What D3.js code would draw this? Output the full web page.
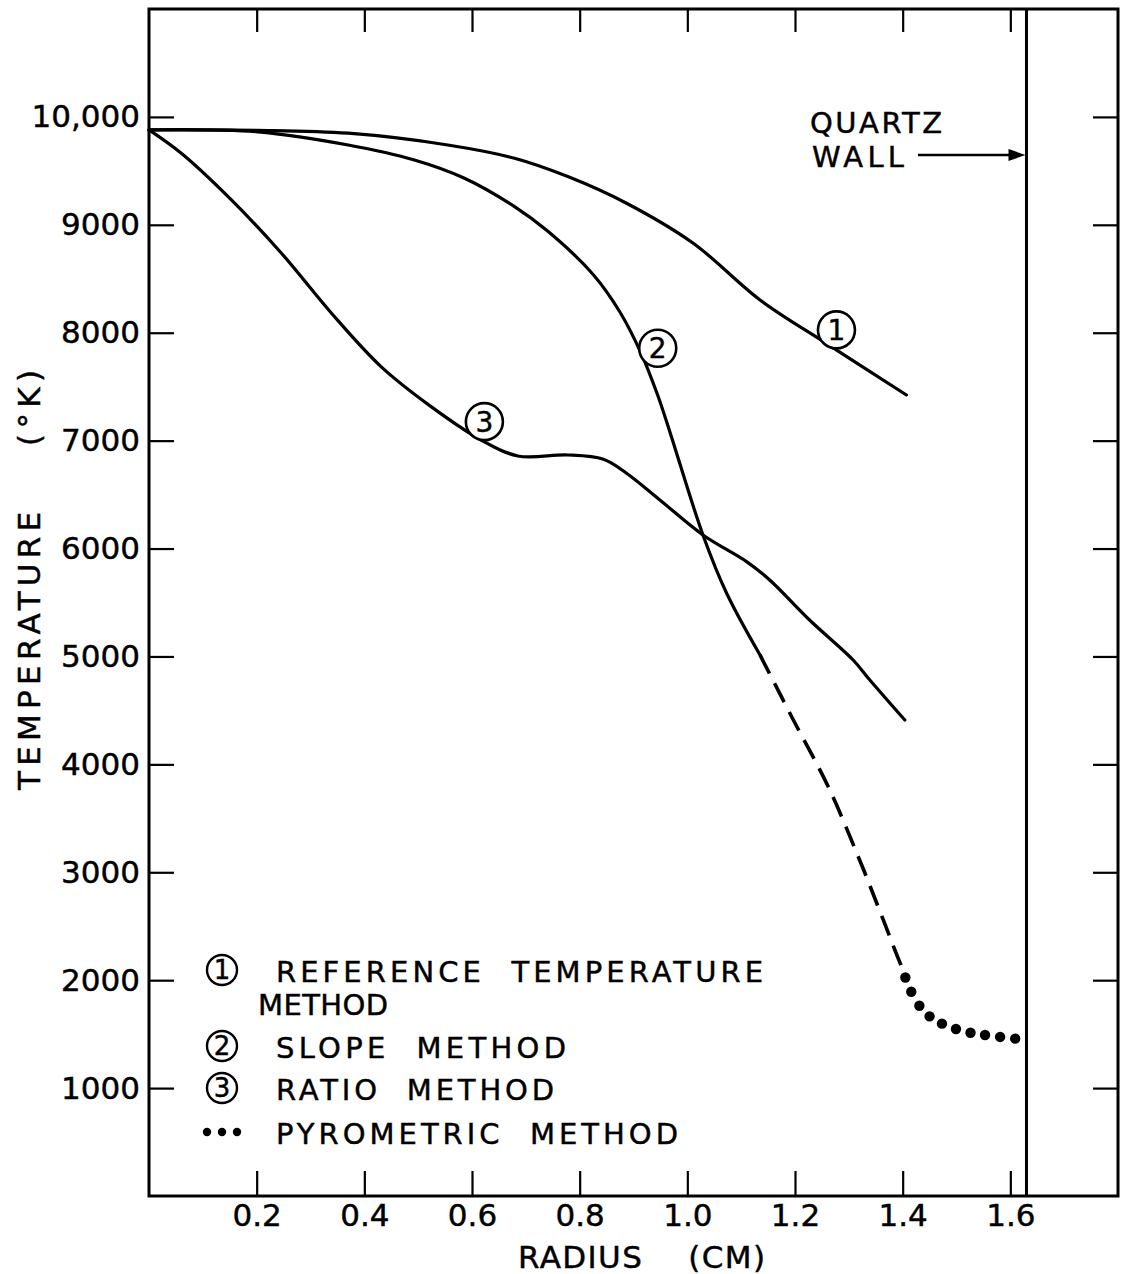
<!DOCTYPE html>
<html>
<head>
<meta charset="utf-8">
<script src="https://cdn.jsdelivr.net/npm/d3@7"></script>
<style>
  body { margin: 0; background: #fff; }
  svg { display: block; }
  text { font-family: "DejaVu Sans", sans-serif; fill: #000; stroke: #000; stroke-width: 0.45px; }
</style>
</head>
<body>
<svg id="chart" width="1121" height="1274"></svg>
<script>
// Axis ticks
const radiusTicks = [0.2, 0.4, 0.6, 0.8, 1.0, 1.2, 1.4, 1.6];
const radiusTickLabels = ["0.2", "0.4", "0.6", "0.8", "1.0", "1.2", "1.4", "1.6"];
const tempTicks = [1000, 2000, 3000, 4000, 5000, 6000, 7000, 8000, 9000, 10000];
const tempTickLabels = ["1000", "2000", "3000", "4000", "5000", "6000", "7000", "8000", "9000", "10,000"];

// (1) Reference temperature method
const refRadius = [0, 0.20, 0.37, 0.555, 0.679, 0.778, 0.887, 1.011, 1.135, 1.258, 1.407];
const refTemp   = [9880, 9876, 9849, 9740, 9617, 9447, 9200, 8829, 8304, 7902, 7423];

// (2) Slope method, measured part (solid)
const slopeRadius = [0, 0.202, 0.37, 0.493, 0.586, 0.679, 0.741, 0.825, 0.875, 0.915, 0.945, 0.967, 1.029, 1.073, 1.135];
const slopeTemp   = [9880, 9862, 9740, 9601, 9432, 9169, 8940, 8540, 8190, 7800, 7420, 7090, 6126, 5586, 5014];

// (2) Slope method, extrapolated part (dashed)
const slopeExtRadius = [1.135, 1.197, 1.262, 1.32, 1.364, 1.388, 1.398];
const slopeExtTemp   = [5014, 4411, 3790, 3114, 2558, 2249, 2125];

// (3) Ratio method
const ratioRadius = [0, 0.06, 0.153, 0.246, 0.339, 0.431, 0.524, 0.617, 0.685, 0.778, 0.844, 0.887, 0.949, 1.029, 1.11, 1.153, 1.227, 1.308, 1.339, 1.404];
const ratioTemp   = [9880, 9663, 9231, 8737, 8181, 7686, 7315, 7006, 6858, 6867, 6827, 6698, 6450, 6126, 5879, 5709, 5338, 4967, 4782, 4411];

// Pyrometric method (dots)
const pyroRadius = [1.405, 1.416, 1.431, 1.45, 1.473, 1.499, 1.526, 1.553, 1.581, 1.609];
const pyroTemp   = [2025, 1893, 1763, 1665, 1597, 1548, 1513, 1492, 1474, 1458];

// Quartz wall position (cm)
const wallRadius = 1.63;

// Curve labels: number, radius, temperature of the circle centre
const curveLabels = [["1", 1.277, 8026], ["2", 0.945, 7856], ["3", 0.623, 7176]];

const zip = (xs, ys) => xs.map((v, i) => [v, ys[i]]);

const svg = d3.select("#chart");
const x = d3.scaleLinear().domain([0, 1.8]).range([149, 1118]);
const y = d3.scaleLinear().domain([0, 11000]).range([1196, 9]);

const fontSize = 31;

// Frame
svg.append("rect")
  .attr("x", x(0)).attr("y", y(11000))
  .attr("width", x(1.8) - x(0)).attr("height", y(0) - y(11000))
  .attr("fill", "none").attr("stroke", "#000").attr("stroke-width", 3);

function styleAxis(g) {
  g.select(".domain").remove();
  g.selectAll(".tick line").attr("stroke", "#000").attr("stroke-width", 2.2);
  g.selectAll(".tick text").attr("font-size", fontSize)
    .attr("font-family", "DejaVu Sans, sans-serif").attr("fill", "#000");
}

// Bottom axis with labels, ticks pointing inward
svg.append("g").attr("transform", `translate(0,${y(0)})`)
  .call(d3.axisBottom(x).tickValues(radiusTicks)
    .tickFormat((d, i) => radiusTickLabels[i]).tickSizeInner(-25).tickSizeOuter(0).tickPadding(8))
  .call(styleAxis);

// Top axis, ticks only
svg.append("g").attr("transform", `translate(0,${y(11000)})`)
  .call(d3.axisTop(x).tickValues(radiusTicks).tickFormat("").tickSizeInner(-23).tickSizeOuter(0))
  .call(styleAxis);

// Left axis with labels
svg.append("g").attr("transform", `translate(${x(0)},0)`)
  .call(d3.axisLeft(y).tickValues(tempTicks)
    .tickFormat((d, i) => tempTickLabels[i]).tickSizeInner(-25).tickSizeOuter(0).tickPadding(9))
  .call(styleAxis);

// Right axis, ticks only
svg.append("g").attr("transform", `translate(${x(1.8)},0)`)
  .call(d3.axisRight(y).tickValues(tempTicks).tickFormat("").tickSizeInner(-25).tickSizeOuter(0))
  .call(styleAxis);

// Axis titles
svg.append("text")
  .attr("transform", "translate(40,580) rotate(-90)")
  .attr("text-anchor", "middle").attr("font-size", fontSize)
  .attr("textLength", 420).attr("lengthAdjust", "spacing")
  .text("TEMPERATURE\u00a0\u00a0\u00a0\u00a0(°K)");

svg.append("text")
  .attr("x", 518).attr("y", 1268)
  .attr("font-size", fontSize)
  .attr("textLength", 247).attr("lengthAdjust", "spacing")
  .text("RADIUS\u00a0\u00a0\u00a0\u00a0(CM)");

// Quartz wall
svg.append("line")
  .attr("x1", x(wallRadius)).attr("x2", x(wallRadius))
  .attr("y1", y(11000)).attr("y2", y(0))
  .attr("stroke", "#000").attr("stroke-width", 3);

svg.append("text").attr("x", 810).attr("y", 133).attr("font-size", 29)
  .attr("textLength", 132).attr("lengthAdjust", "spacing").text("QUARTZ");
svg.append("text").attr("x", 812).attr("y", 167).attr("font-size", 29)
  .attr("textLength", 92).attr("lengthAdjust", "spacing").text("WALL");

const arrowY = 155;
svg.append("line")
  .attr("x1", 918).attr("x2", x(wallRadius) - 14)
  .attr("y1", arrowY).attr("y2", arrowY)
  .attr("stroke", "#000").attr("stroke-width", 2.5);
svg.append("path")
  .attr("d", `M${x(wallRadius) - 1},${arrowY} L${x(wallRadius) - 18},${arrowY - 6} L${x(wallRadius) - 18},${arrowY + 6} Z`)
  .attr("fill", "#000");

// Curves
const line = d3.line()
  .x(d => x(d[0])).y(d => y(d[1]))
  .curve(d3.curveCatmullRom.alpha(0.5));

const curves = svg.append("g").attr("fill", "none").attr("stroke", "#000")
  .attr("stroke-width", 3.2).attr("stroke-linecap", "round").attr("stroke-linejoin", "round");

curves.append("path").attr("d", line(zip(refRadius, refTemp)));
curves.append("path").attr("d", line(zip(slopeRadius, slopeTemp)));
curves.append("path").attr("d", line(zip(slopeExtRadius, slopeExtTemp)))
  .attr("stroke-width", 3.6).attr("stroke-dasharray", "21,11").attr("stroke-linecap", "butt");
curves.append("path").attr("d", line(zip(ratioRadius, ratioTemp)));

// Pyrometric dots
svg.append("g").selectAll("circle")
  .data(zip(pyroRadius, pyroTemp))
  .join("circle")
  .attr("cx", d => x(d[0])).attr("cy", d => y(d[1]))
  .attr("r", 5.2).attr("fill", "#000");

// Circled curve numbers
const lbl = svg.append("g").selectAll("g").data(curveLabels).join("g")
  .attr("transform", d => `translate(${x(d[1])},${y(d[2])})`);
lbl.append("circle").attr("r", 18.5).attr("fill", "#fff")
  .attr("stroke", "#000").attr("stroke-width", 2.6);
lbl.append("text").attr("text-anchor", "middle").attr("dy", "0.36em")
  .attr("font-size", 28).text(d => d[0]);

// Legend
const legend = svg.append("g");
const legendRows = [
  { mark: "1", cy: 970, text: "REFERENCE\u00a0\u00a0TEMPERATURE", tx: 276, len: 487 },
  { mark: "2", cy: 1046, text: "SLOPE\u00a0\u00a0METHOD", tx: 276, len: 290 },
  { mark: "3", cy: 1088, text: "RATIO\u00a0\u00a0METHOD", tx: 276, len: 278 },
  { mark: "dots", cy: 1132, text: "PYROMETRIC\u00a0\u00a0METHOD", tx: 276, len: 402 }
];
legendRows.forEach(r => {
  if (r.mark === "dots") {
    [207, 222, 237].forEach(cx => legend.append("circle")
      .attr("cx", cx).attr("cy", r.cy).attr("r", 4.2).attr("fill", "#000"));
  } else {
    legend.append("circle").attr("cx", 222).attr("cy", r.cy).attr("r", 15)
      .attr("fill", "none").attr("stroke", "#000").attr("stroke-width", 2.4);
    legend.append("text").attr("x", 222).attr("y", r.cy).attr("dy", "0.36em")
      .attr("text-anchor", "middle").attr("font-size", 26).text(r.mark);
  }
  legend.append("text").attr("x", r.tx).attr("y", r.cy + 12).attr("font-size", 29)
    .attr("textLength", r.len).attr("lengthAdjust", "spacing").text(r.text);
});
legend.append("text").attr("x", 258).attr("y", 1015).attr("font-size", 29)
  .attr("textLength", 130).attr("lengthAdjust", "spacing").text("METHOD");
</script>
</body>
</html>
